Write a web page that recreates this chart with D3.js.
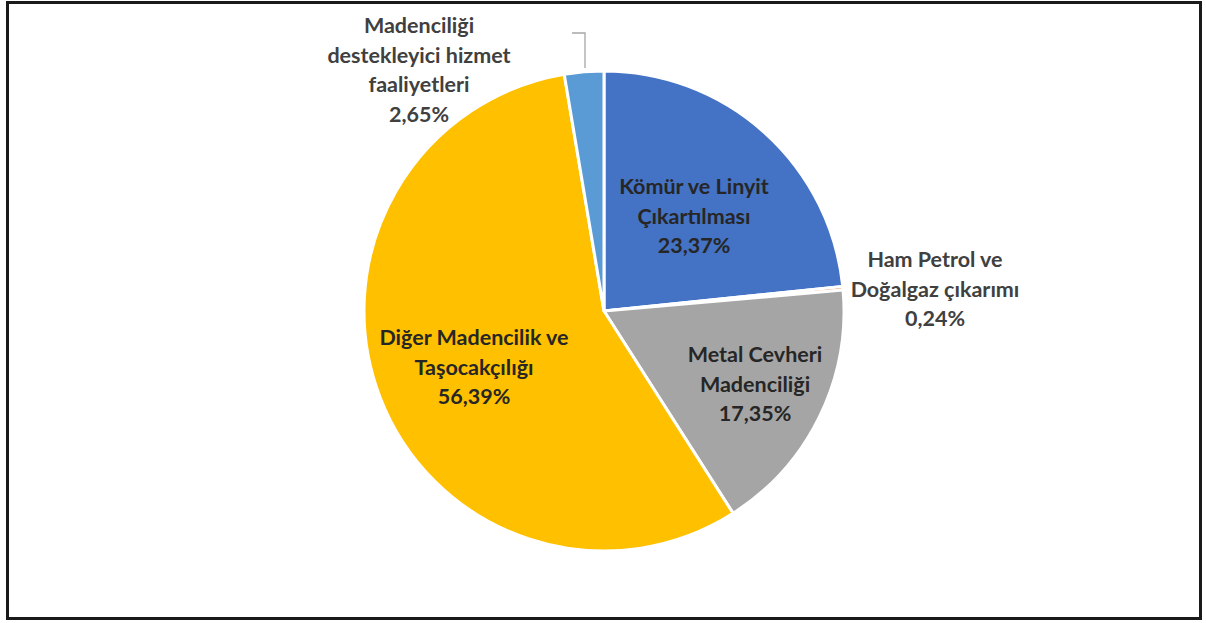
<!DOCTYPE html>
<html><head><meta charset="utf-8">
<script src="https://cdn.jsdelivr.net/npm/d3@7"></script>
<style>body{margin:0;background:#fff}svg{display:block}</style>
</head><body>
<svg id="c" width="1206" height="623"></svg>
<script>
const categories = ["Kömür ve Linyit Çıkartılması","Ham Petrol ve Doğalgaz çıkarımı","Metal Cevheri Madenciliği","Diğer Madencilik ve Taşocakçılığı","Madenciliği destekleyici hizmet faaliyetleri"];
const values = [23.37, 0.24, 17.35, 56.39, 2.65];
const valueLabels = ["23,37%","0,24%","17,35%","56,39%","2,65%"];
const labelLines = [["Kömür ve Linyit","Çıkartılması"],["Ham Petrol ve","Doğalgaz çıkarımı"],["Metal Cevheri","Madenciliği"],["Diğer Madencilik ve","Taşocakçılığı"],["Madenciliği","destekleyici hizmet","faaliyetleri"]];
const colors = ["#4472C4","#ED7D31","#A5A5A5","#FFC000","#5B9BD5"];

const svg = d3.select("#c");
svg.append("rect").attr("x",7.5).attr("y",2.5).attr("width",1193).attr("height",616)
  .attr("fill","#fff").attr("stroke","#1a1a1a").attr("stroke-width",3);

const cx=604, cy=311, r=240;
const g = svg.append("g").attr("transform",`translate(${cx},${cy})`);
const pie = d3.pie().sort(null).value(d=>d)(values);
const arc = d3.arc().innerRadius(0).outerRadius(r);
g.selectAll("path").data(pie).join("path").attr("d",arc)
  .attr("fill",(d,i)=>colors[i]).attr("stroke","#fff").attr("stroke-width",3).attr("stroke-linejoin","round");

// label positions (center x, first baseline y) relative to pie center
const labelPos = [[90,-117],[331,-44],[151,51],[-130,34],[-185,-278]];
const inside = [true,false,true,true,false];
const lh = 29.7;
labelPos.forEach((p,i)=>{
  const lines = labelLines[i].concat([valueLabels[i]]);
  const t = g.append("text").attr("text-anchor","middle")
    .attr("font-family","Lato, 'Open Sans', sans-serif").attr("font-weight","bold")
    .attr("font-size",21.5).attr("fill",inside[i]?"#262626":"#404040")
    .attr("x",p[0]).attr("y",p[1]);
  lines.forEach((l,j)=>t.append("tspan").attr("x",p[0]).attr("dy",j?lh:0).text(l));
});
// leader line for small slice
g.append("path").attr("d",`M${572-cx},${33-cy}H${585-cx}V${68-cy}`)
  .attr("fill","none").attr("stroke","#a6a6a6").attr("stroke-width",1.3);
</script>
</body></html>
